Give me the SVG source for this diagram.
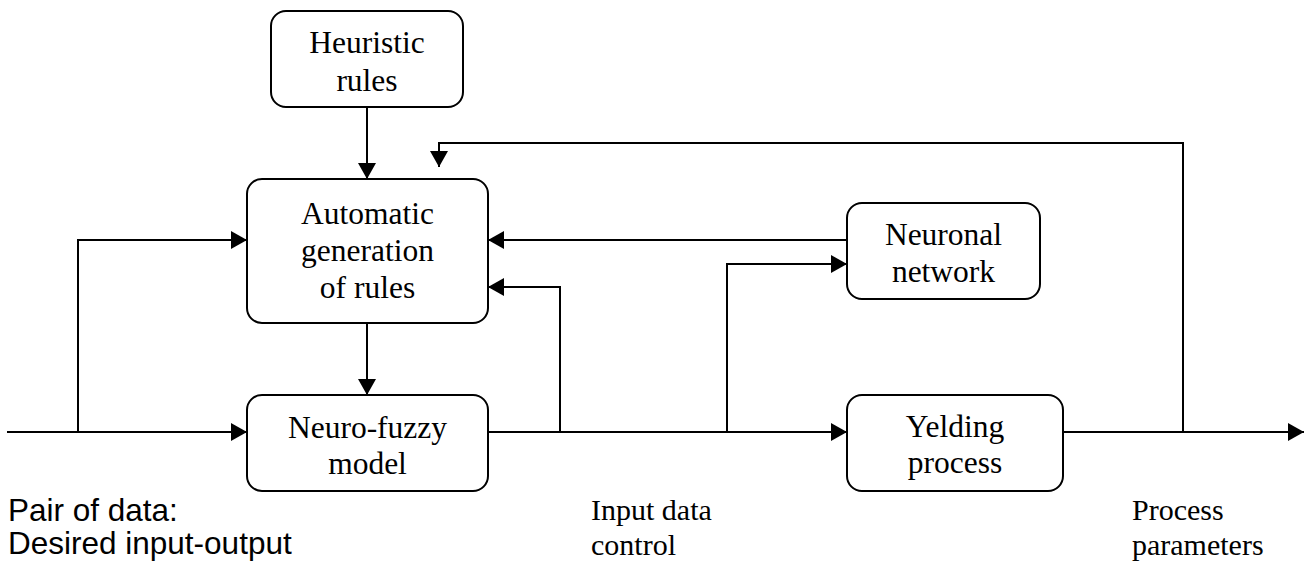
<svg xmlns="http://www.w3.org/2000/svg" width="1306" height="562" viewBox="0 0 1306 562">
<style>
.box{fill:#fff;stroke:#000;stroke-width:2}
.t{font-family:"Liberation Serif","Times New Roman",serif;font-size:31.5px;fill:#000;text-anchor:middle}
.lbl{font-family:"Liberation Serif","Times New Roman",serif;font-size:30px;fill:#000}
.lbls{font-family:"Liberation Sans",Arial,sans-serif;font-size:31.5px;fill:#000}
.c{fill:none;stroke:#000;stroke-width:2}
</style>
<defs>
<marker id="ah" markerUnits="userSpaceOnUse" markerWidth="16" markerHeight="18" refX="16" refY="9" orient="auto">
<path d="M0,0 L16,9 L0,18 Z" fill="#000"/>
</marker>
</defs>
<rect width="1306" height="562" fill="#fff"/>
<g id="connectors">
<path class="c" d="M367 107 V179" marker-end="url(#ah)"/>
<path class="c" d="M1183 432 V143 H439 V167" marker-end="url(#ah)"/>
<path class="c" d="M847 240 H488" marker-end="url(#ah)"/>
<path class="c" d="M367 323 V395" marker-end="url(#ah)"/>
<path class="c" d="M7 432 H247" marker-end="url(#ah)"/>
<path class="c" d="M78 432 V240 H247" marker-end="url(#ah)"/>
<path class="c" d="M488 432 H847" marker-end="url(#ah)"/>
<path class="c" d="M560 432 V287 H488" marker-end="url(#ah)"/>
<path class="c" d="M727 432 V264 H847" marker-end="url(#ah)"/>
<path class="c" d="M1063 432 H1304" marker-end="url(#ah)"/>
</g>
<g id="heuristic">
<rect class="box" x="271" y="11" width="192" height="96" rx="15"/>
<text class="t" x="367" y="53">Heuristic</text>
<text class="t" x="367" y="91">rules</text>
</g>
<g id="automatic">
<rect class="box" x="247" y="179" width="241" height="144" rx="15"/>
<text class="t" x="367.5" y="224">Automatic</text>
<text class="t" x="367.5" y="261">generation</text>
<text class="t" x="367.5" y="298">of rules</text>
</g>
<g id="neurofuzzy">
<rect class="box" x="247" y="395" width="241" height="96" rx="15"/>
<text class="t" x="367.5" y="438">Neuro-fuzzy</text>
<text class="t" x="367.5" y="474">model</text>
</g>
<g id="neuronal">
<rect class="box" x="847" y="203" width="193" height="96" rx="15"/>
<text class="t" x="943.5" y="245">Neuronal</text>
<text class="t" x="943.5" y="282">network</text>
</g>
<g id="yelding">
<rect class="box" x="847" y="395" width="216" height="96" rx="15"/>
<text class="t" x="955" y="437">Yelding</text>
<text class="t" x="955" y="473">process</text>
</g>
<g id="labels">
<text class="lbls" x="8" y="521">Pair of data:</text>
<text class="lbls" x="8" y="554">Desired input-output</text>
<text class="lbl" x="591" y="520">Input data</text>
<text class="lbl" x="591" y="555">control</text>
<text class="lbl" x="1132" y="520">Process</text>
<text class="lbl" x="1132" y="555">parameters</text>
</g>
</svg>
